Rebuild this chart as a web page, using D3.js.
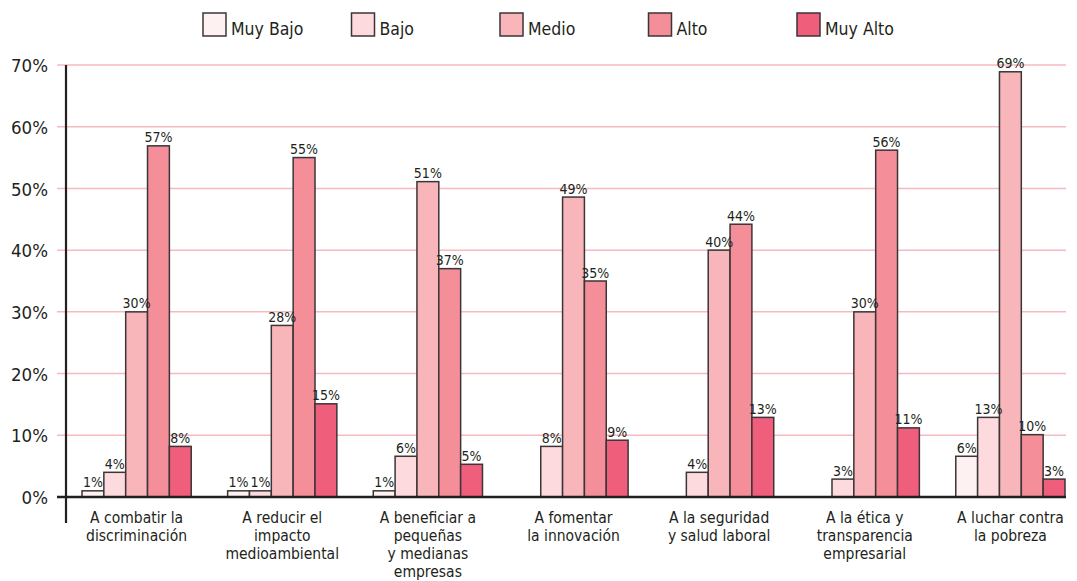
<!DOCTYPE html>
<html>
<head>
<meta charset="utf-8">
<script src="https://cdn.jsdelivr.net/npm/d3@7"></script>
<style>
    html, body { margin: 0; padding: 0; background: #fff; }
    text { font-family: "DejaVu Sans Condensed", "Liberation Sans Narrow", "DejaVu Sans", sans-serif; fill: #231f20; }
</style>
</head>
<body>
<div id="chart"></div>
<script>
// categories (x axis), one string per line
var categories = [
    ["A combatir la", "discriminación"],
    ["A reducir el", "impacto", "medioambiental"],
    ["A beneficiar a", "pequeñas", "y medianas", "empresas"],
    ["A fomentar", "la innovación"],
    ["A la seguridad", "y salud laboral"],
    ["A la ética y", "transparencia", "empresarial"],
    ["A luchar contra", "la pobreza"]
];

var seriesNames = ["Muy Bajo", "Bajo", "Medio", "Alto", "Muy Alto"];
var seriesColors = ["#fdf1f1", "#fcdadd", "#f8b5ba", "#f48e99", "#ef5f7c"];

// bar heights (null = no bar)
var muyBajo = [1.0, 1.0, 1.0, null, null, null, 6.6];
var bajo    = [4.0, 1.0, 6.6, 8.2, 4.0, 2.9, 12.9];
var medio   = [30.0, 27.8, 51.1, 48.6, 40.0, 30.0, 68.9];
var alto    = [56.9, 55.0, 37.0, 35.0, 44.2, 56.2, 10.1];
var muyAlto = [8.2, 15.1, 5.3, 9.2, 12.9, 11.2, 2.9];

// printed labels above the bars
var muyBajoLbl = [1, 1, 1, null, null, null, 6];
var bajoLbl    = [4, 1, 6, 8, 4, 3, 13];
var medioLbl   = [30, 28, 51, 49, 40, 30, 69];
var altoLbl    = [57, 55, 37, 35, 44, 56, 10];
var muyAltoLbl = [8, 15, 5, 9, 13, 11, 3];

var yTicks = [0, 10, 20, 30, 40, 50, 60, 70];

var seriesValues = [muyBajo, bajo, medio, alto, muyAlto];
var seriesLabels = [muyBajoLbl, bajoLbl, medioLbl, altoLbl, muyAltoLbl];

var width = 1077, height = 581;

var svg = d3.select("#chart")
    .append("svg")
    .attr("width", width)
    .attr("height", height);

// scales
var x0 = d3.scaleBand()
    .domain(d3.range(categories.length))
    .range([82, 1065])
    .paddingInner(0.25)
    .paddingOuter(0);

var x1 = d3.scaleBand()
    .domain(seriesNames)
    .range([0, x0.bandwidth()]);

var y = d3.scaleLinear()
    .domain([0, 70])
    .range([497, 65]);

var color = d3.scaleOrdinal().domain(seriesNames).range(seriesColors);

// grid lines
svg.append("g")
    .selectAll("line")
    .data(yTicks.filter(function (d) { return d > 0; }))
    .enter()
    .append("line")
    .attr("x1", 57)
    .attr("x2", 1066)
    .attr("y1", function (d) { return y(d); })
    .attr("y2", function (d) { return y(d); })
    .attr("stroke", "#f7b9c0")
    .attr("stroke-width", 1.5);

// y axis labels
var yAxis = d3.axisLeft(y)
    .tickValues(yTicks)
    .tickFormat(function (d) { return d + "%"; })
    .tickSize(0)
    .tickPadding(18);

var gy = svg.append("g")
    .attr("transform", "translate(66,0)")
    .call(yAxis);
gy.select(".domain").remove();
gy.selectAll("text")
    .attr("font-size", 18.5)
    .attr("dy", "0.36em")
    .style("font-family", null);

// bars
var rows = [];
categories.forEach(function (c, i) {
    seriesNames.forEach(function (s, j) {
        if (seriesValues[j][i] != null) {
            rows.push({ cat: i, key: s, value: seriesValues[j][i], label: seriesLabels[j][i] });
        }
    });
});

svg.append("g")
    .selectAll("rect")
    .data(rows)
    .enter()
    .append("rect")
    .attr("x", function (d) { return x0(d.cat) + x1(d.key); })
    .attr("y", function (d) { return y(d.value); })
    .attr("width", x1.bandwidth())
    .attr("height", function (d) { return y(0) - y(d.value); })
    .attr("fill", function (d) { return color(d.key); })
    .attr("stroke", "#3b3536")
    .attr("stroke-width", 1.5);

svg.append("g")
    .selectAll("text")
    .data(rows)
    .enter()
    .append("text")
    .attr("x", function (d) { return x0(d.cat) + x1(d.key) + x1.bandwidth() / 2; })
    .attr("y", function (d) { return y(d.value) - 3.5; })
    .attr("text-anchor", "middle")
    .attr("font-size", 14)
    .text(function (d) { return d.label + "%"; });

// zero line and vertical axis line
svg.append("line")
    .attr("x1", 57).attr("x2", 1066)
    .attr("y1", y(0)).attr("y2", y(0))
    .attr("stroke", "#231f20")
    .attr("stroke-width", 2.5);

svg.append("line")
    .attr("x1", 66).attr("x2", 66)
    .attr("y1", y(70)).attr("y2", 523)
    .attr("stroke", "#231f20")
    .attr("stroke-width", 2.2);

// category labels
var catG = svg.append("g")
    .selectAll("text")
    .data(categories)
    .enter()
    .append("text")
    .attr("text-anchor", "middle")
    .attr("font-size", 15.5)
    .attr("transform", function (d, i) {
        return "translate(" + (x0(i) + x0.bandwidth() / 2) + ",523)";
    });

catG.selectAll("tspan")
    .data(function (d) { return d; })
    .enter()
    .append("tspan")
    .attr("x", 0)
    .attr("dy", function (d, i) { return i === 0 ? 0 : 18; })
    .text(function (d) { return d; });

// legend
var legend = svg.append("g")
    .selectAll("g")
    .data(seriesNames)
    .enter()
    .append("g")
    .attr("transform", function (d, i) { return "translate(" + (203 + i * 148.5) + ",13)"; });

legend.append("rect")
    .attr("width", 23)
    .attr("height", 23)
    .attr("fill", function (d) { return color(d); })
    .attr("stroke", "#3b3536")
    .attr("stroke-width", 1.5);

legend.append("text")
    .attr("x", 28)
    .attr("y", 22)
    .attr("font-size", 17.5)
    .text(function (d) { return d; });
</script>
</body>
</html>
